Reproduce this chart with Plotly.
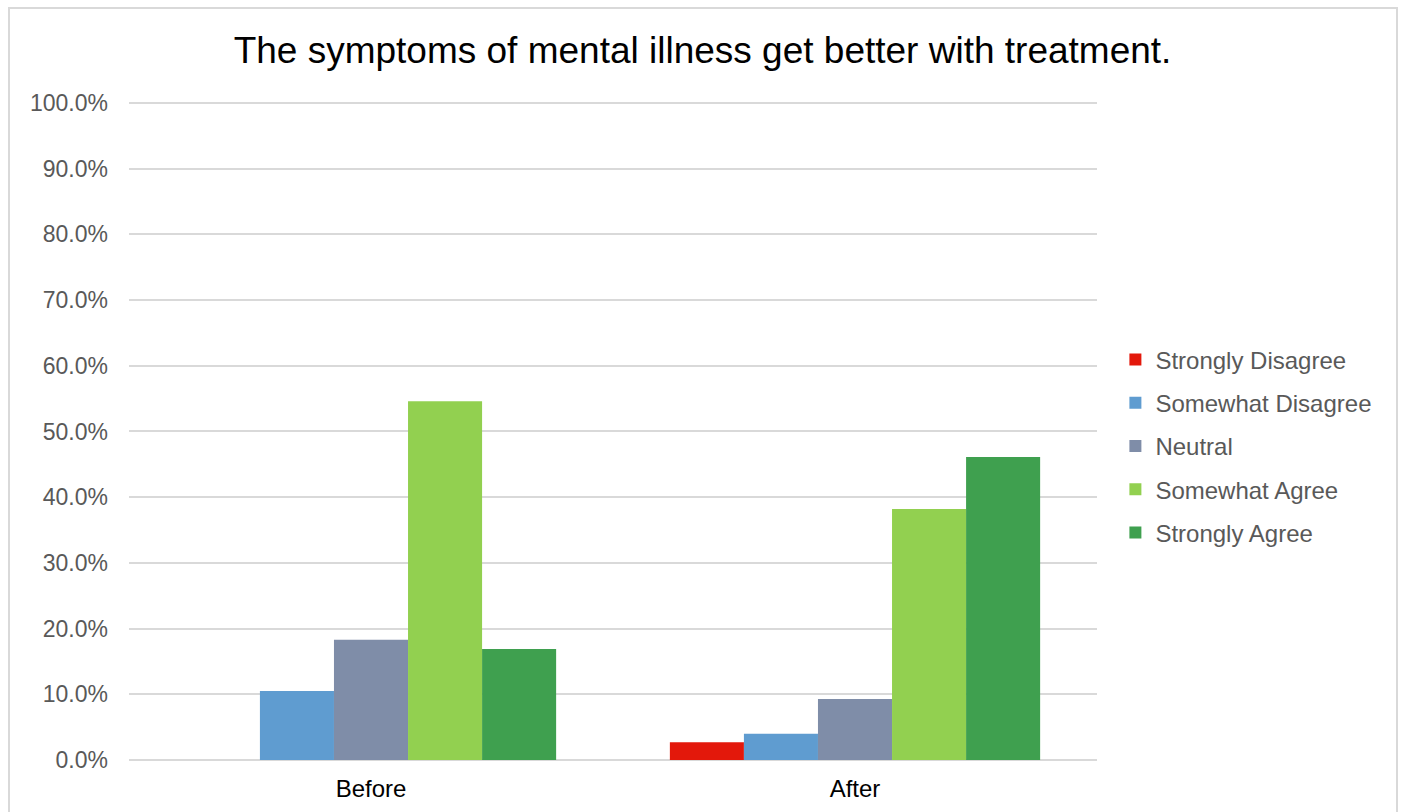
import plotly.graph_objects as go

categories = ["Before", "After"]
series_names = ["Strongly Disagree", "Somewhat Disagree", "Neutral", "Somewhat Agree", "Strongly Agree"]
strongly_disagree = [0.0, 2.7]
somewhat_disagree = [10.5, 4.0]
neutral = [18.3, 9.3]
somewhat_agree = [54.6, 38.2]
strongly_agree = [16.9, 46.1]
colors = ["#E3180B", "#5F9CD0", "#7F8DA8", "#92D050", "#3FA04F"]
tick_vals = [0, 10, 20, 30, 40, 50, 60, 70, 80, 90, 100]
tick_text = [f"{v:.1f}%" for v in tick_vals]

values = [strongly_disagree, somewhat_disagree, neutral, somewhat_agree, strongly_agree]

FONT = "Liberation Sans, Arial, sans-serif"

fig = go.Figure()
for i, (name, vals) in enumerate(zip(series_names, values)):
    fig.add_trace(go.Bar(
        name=name, x=categories, y=vals,
        marker=dict(color=colors[i], line=dict(width=0)),
        legendgroup=f"g{i}",
    ))

PH = 659  # plot height in px
fig.update_layout(
    width=1405, height=812,
    margin=dict(l=129, r=308, t=101, b=52, autoexpand=False),
    paper_bgcolor="white", plot_bgcolor="white",
    barmode="group", bargap=0.235, bargroupgap=0,
    title=dict(text="The symptoms of mental illness get better with treatment.",
               x=0.5, xanchor="center", y=0.938, yanchor="middle",
               font=dict(family=FONT, size=37, color="#000000")),
    font=dict(family=FONT),
    showlegend=True,
    legend=dict(x=1.019, xanchor="left", y=(760 - 446) / PH, yanchor="middle",
                font=dict(family=FONT, size=24, color="#595959"),
                traceorder="grouped", tracegroupgap=9,
                bgcolor="rgba(0,0,0,0)"),
    xaxis=dict(showgrid=False, showline=False, ticks="", automargin=False,
               ticklabelstandoff=12,
               tickfont=dict(family=FONT, size=24, color="#000000")),
    yaxis=dict(range=[0, 100.3], tickvals=tick_vals, ticktext=tick_text,
               automargin=False,
               showgrid=True, gridcolor="#D9D9D9", gridwidth=2,
               zeroline=True, zerolinecolor="#D9D9D9", zerolinewidth=2,
               showline=False, ticks="", ticklen=0, ticklabelstandoff=20,
               tickfont=dict(family=FONT, size=23, color="#595959")),
    shapes=[dict(type="rect", xref="paper", yref="paper",
                 x0=(9 - 129) / 968, x1=(1397 - 129) / 968,
                 y0=(760 - 830) / PH, y1=(760 - 8) / PH,
                 line=dict(color="#D9D9D9", width=2), fillcolor="rgba(0,0,0,0)",
                 layer="below")],
)

fig.write_html("out.html")
